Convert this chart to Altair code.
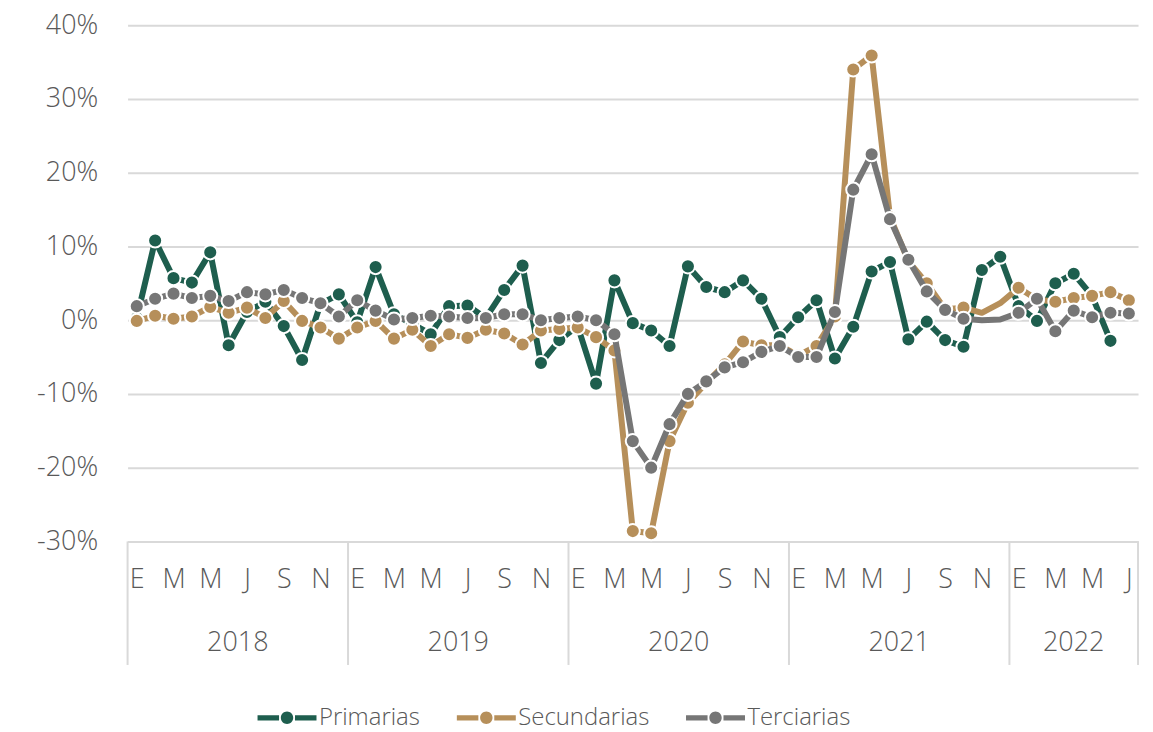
import altair as alt
import pandas as pd

years = [2018, 2019, 2020, 2021, 2022]
months_per_year = [12, 12, 12, 12, 7]
month_letters = ["E", "F", "M", "A", "M", "J", "J", "A", "S", "O", "N", "D"]

series_names = ["Primarias", "Secundarias", "Terciarias"]
colors = ["#1e5e4e", "#b68f5a", "#767676"]

primarias = [0.3, 10.8, 5.7, 5.1, 9.2, -3.4, 1.1, 2.5, -0.8, -5.4, 2.2, 3.5,
             -0.3, 7.2, 0.8, -0.5, -1.9, 1.9, 2.0, 0.3, 4.1, 7.4, -5.8, -2.7,
             -0.8, -8.6, 5.4, -0.4, -1.4, -3.5, 7.3, 4.5, 3.8, 5.4, 2.9, -2.3,
             0.4, 2.7, -5.2, -0.9, 6.6, 7.9, -2.6, -0.2, -2.7, -3.6, 6.8, 8.6,
             1.9, -0.1, 5.0, 6.3, 3.3, -2.8, None]
secundarias = [-0.1, 0.6, 0.2, 0.5, 1.8, 1.0, 1.7, 0.3, 2.6, -0.1, -1.0, -2.5,
               -1.0, -0.1, -2.5, -1.3, -3.5, -1.9, -2.4, -1.3, -1.8, -3.3, -1.4, -1.2,
               -1.0, -2.3, -4.1, -28.6, -28.9, -16.4, -11.2, -8.5, -6.0, -2.9, -3.4, -3.4,
               -4.8, -3.5, 0.5, 34.0, 35.9, 14.0, 8.0, 5.0, 1.5, 1.7, 1.0, 2.3,
               4.4, 2.8, 2.5, 3.0, 3.3, 3.8, 2.7]
terciarias = [1.9, 2.9, 3.6, 3.0, 3.3, 2.6, 3.8, 3.5, 4.1, 3.0, 2.3, 0.5,
              2.7, 1.3, 0.1, 0.3, 0.6, 0.5, 0.3, 0.3, 0.8, 0.8, 0.0, 0.3,
              0.5, 0.0, -1.9, -16.4, -20.0, -14.1, -10.0, -8.3, -6.4, -5.7, -4.3, -3.5,
              -5.0, -5.0, 1.1, 17.7, 22.5, 13.7, 8.2, 3.9, 1.4, 0.2, 0.0, 0.1,
              1.0, 2.9, -1.5, 1.3, 0.4, 1.0, 0.9]
# months (index) drawn without a marker in the reference
no_marker = {"Primarias": [], "Secundarias": [46, 47], "Terciarias": [46, 47]}

rows = []
for name, vals in zip(series_names, [primarias, secundarias, terciarias]):
    for i, v in enumerate(vals):
        if v is None:
            continue
        rows.append({"idx": i, "value": v, "series": name,
                     "marker": i not in no_marker[name]})
df = pd.DataFrame(rows)

yr_rows, bounds = [], []
start = 0
for y, n in zip(years, months_per_year):
    yr_rows.append({"year": str(y), "mid": start + (n - 1) / 2})
    bounds.append({"b": start - 0.5})
    start += n
bounds.append({"b": start - 0.5})
yr_df = pd.DataFrame(yr_rows)
b_df = pd.DataFrame(bounds)

W, H = 1014, 518
FONT = "Open Sans"
TXT = "#595959"
n_total = sum(months_per_year)

label_js = "[" + ",".join("'%s'" % m for m in month_letters) + "][datum.value % 12]"

xscale = alt.Scale(domain=[-0.5, n_total - 0.5], nice=False, zero=False)
x_axis = alt.Axis(values=list(range(0, n_total, 2)), labelExpr=label_js, ticks=False,
                  grid=False, domainColor="#d9d9d9", domainWidth=2, labelFontSize=27,
                  labelFont=FONT, labelFontWeight=300, labelColor=TXT, labelPadding=25,
                  labelOverlap=False, labelFlush=False, labelBound=False,
                  labelSeparation=0, title=None)
yscale = alt.Scale(domain=[-30, 40], nice=False)
y_axis = alt.Axis(values=list(range(-30, 41, 10)), labelExpr="datum.value + '%'",
                  grid=True, gridColor="#d9d9d9", gridWidth=2, domain=False, ticks=False,
                  labelPadding=30, labelFontSize=27, labelFont=FONT, labelFontWeight=300,
                  labelColor=TXT, title=None)

sym = ("M-1,-0.09H-0.27V0.09H-1Z M0.27,-0.09H1V0.09H0.27Z "
       "M-0.21,0A0.21,0.21 0 1,0 0.21,0A0.21,0.21 0 1,0 -0.21,0Z")

color_enc = alt.Color("series:N", scale=alt.Scale(domain=series_names, range=colors),
                      legend=alt.Legend(title=None, orient="none", direction="horizontal",
                                        legendX=130, legendY=665, symbolType=sym,
                                        symbolSize=3500, symbolStrokeWidth=0,
                                        symbolOpacity=1, labelFontSize=24, labelFont=FONT,
                                        labelFontWeight=300, labelColor=TXT,
                                        labelOffset=2, columnPadding=36))

X = alt.X("idx:Q", scale=xscale, axis=x_axis)
Y = alt.Y("value:Q", scale=yscale, axis=y_axis)

base = alt.Chart(df)
layers = []
for name, c in zip(series_names, colors):
    line = base.transform_filter(alt.datum.series == name).mark_line(
        strokeWidth=6, color=c, strokeJoin="round").encode(x=X, y=Y)
    pts = base.transform_filter(alt.datum.series == name).transform_filter(
        alt.datum.marker).mark_point(filled=True, size=200, stroke="white",
                                     strokeWidth=2, opacity=1).encode(
        x=X, y=Y, color=color_enc)
    layers += [line, pts]

seps = alt.Chart(b_df).mark_rule(color="#d9d9d9", strokeWidth=2).encode(
    x=alt.X("b:Q", scale=xscale, axis=x_axis), y=alt.value(H), y2=alt.value(H + 124))
yr_text = alt.Chart(yr_df).mark_text(font=FONT, fontWeight=300, fontSize=27, color=TXT,
                                     baseline="middle").encode(
    x=alt.X("mid:Q", scale=xscale, axis=x_axis), y=alt.value(H + 102), text="year:N")

chart = alt.layer(seps, yr_text, *layers).properties(
    width=W, height=H, padding={"left": 28, "top": 2, "right": 5, "bottom": 5}
).configure_view(stroke=None).configure_axisX(labelOverlap=False)

chart.save("out.html", embed_options={"renderer": "svg", "actions": False})
